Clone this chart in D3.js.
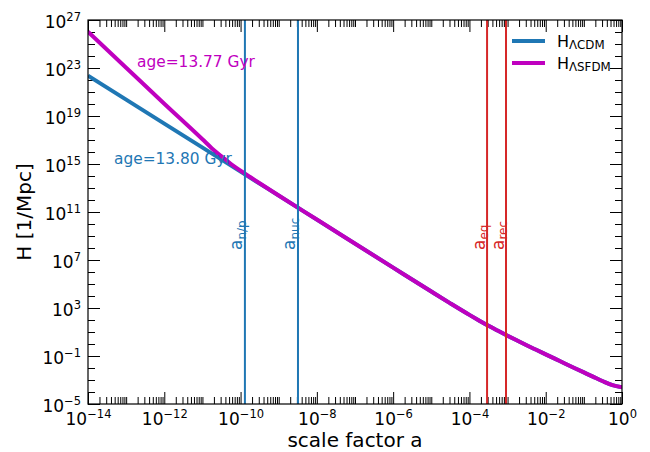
<!DOCTYPE html>
<html><head><meta charset="utf-8">
<script src="https://cdn.jsdelivr.net/npm/d3@7"></script>
<style>
body{margin:0;background:#fff}
svg{display:block;font-family:"DejaVu Sans",sans-serif}
</style>
</head><body>
<svg id="chart" width="650" height="452"></svg>
<script>
// Hubble rate H(a) in 1/Mpc against scale factor a
const aLCDM = [1e-14, 1e-12, 1e-10, 1e-8, 1e-6, 1e-5, 3.16e-5, 1e-4, 1.78e-4, 3.16e-4, 5.62e-4,
  1e-3, 1.78e-3, 3.16e-3, 5.62e-3, 1e-2, 1.78e-2, 3.16e-2, 5.62e-2, 0.1, 0.178, 0.316, 0.562, 1];
const hLCDM = [2.34e22, 2.34e18, 2.34e14, 2.34e10, 2.31e6, 2.34e4, 2.43e3, 267, 92.7, 33, 12.5,
  4.85, 1.94, 0.79, 0.328, 0.137, 0.0573, 0.024, 0.0101, 4.27e-3, 1.81e-3, 7.85e-4, 3.78e-4, 2.42e-4];

const aLSFDM = [1e-14, 1e-13, 1e-12, 1e-11, 1.78e-11, 3.16e-11, 5.62e-11, 1e-10, 1.78e-10, 3.16e-10,
  1e-9, 1e-8, 1e-6, 1e-5, 3.16e-5, 1e-4, 1.78e-4, 3.16e-4, 5.62e-4,
  1e-3, 1.78e-3, 3.16e-3, 5.62e-3, 1e-2, 1.78e-2, 3.16e-2, 5.62e-2, 0.1, 0.178, 0.316, 0.562, 1];
const hLSFDM = [1.05e26, 1.05e23, 1.05e20, 1.15e17, 2.0e16, 4.4e15, 1.0e15, 2.8e14, 8.3e13, 2.5e13,
  2.35e12, 2.34e10, 2.31e6, 2.34e4, 2.43e3, 267, 92.7, 33, 12.5,
  4.85, 1.94, 0.79, 0.328, 0.137, 0.0573, 0.024, 0.0101, 4.27e-3, 1.81e-3, 7.85e-4, 3.78e-4, 2.42e-4];

// Epoch markers
const markerNames = ["n/p", "nuc", "eq", "rec"];
const markerA = [1.3e-10, 3.2e-9, 2.9e-4, 9.1e-4];
const markerColors = ["#1f77b4", "#1f77b4", "#d62728", "#d62728"];

// Age annotations
const ageTexts = ["age=13.77 Gyr", "age=13.80 Gyr"];
const agePos = [[1.93e-13, 1.2e23], [4.8e-14, 1e15]];
const ageColors = ["#bf00bf", "#1f77b4"];

// Legend
const legendSubs = ["ΛCDM", "ΛSFDM"];
const seriesColors = ["#1f77b4", "#bf00bf"];

// Axis ticks (exponents)
const xMajorExp = [-14, -12, -10, -8, -6, -4, -2, 0];
const yMajorExp = [27, 23, 19, 15, 11, 7, 3, -1, -5];

const W = 650, H = 452;
const m = {left: 88, right: 28, top: 20, bottom: 48};
const pw = W - m.left - m.right, ph = H - m.top - m.bottom;

const svg = d3.select("#chart");
const g = svg.append("g").attr("transform", `translate(${m.left},${m.top})`);

const x = d3.scaleLog().domain([1e-14, 1]).range([0, pw]);
const y = d3.scaleLog().domain([1e-5, 1e27]).range([ph, 0]);

svg.append("defs").append("clipPath").attr("id", "plotclip")
  .append("rect").attr("width", pw).attr("height", ph);

// tick positions
const xMajor = xMajorExp.map(e => Math.pow(10, e));
const xMinor = [];
for (let e = -14; e < 0; e++) {
  for (let k = 1; k < 10; k++) {
    if (k === 1 && e % 2 === 0) continue;
    xMinor.push(k * Math.pow(10, e));
  }
}
const yMajor = yMajorExp.map(e => Math.pow(10, e));
const yMinor = d3.range(-5, 28).filter(e => !yMajorExp.includes(e)).map(e => Math.pow(10, e));

const MAJ = 12, MIN = 7;
function axisLayer(axisFn, scale, vals, len, tr) {
  const a = g.append("g").attr("transform", tr)
    .call(axisFn(scale).tickValues(vals).tickSize(-len).tickSizeOuter(0).tickFormat(""));
  a.select(".domain").remove();
  a.selectAll("line").attr("stroke", "#000").attr("stroke-width", 1);
  return a;
}
axisLayer(d3.axisBottom, x, xMinor, MIN, `translate(0,${ph})`);
const xAx = axisLayer(d3.axisBottom, x, xMajor, MAJ, `translate(0,${ph})`);
axisLayer(d3.axisTop, x, xMinor, MIN, "translate(0,0)");
axisLayer(d3.axisTop, x, xMajor, MAJ, "translate(0,0)");
axisLayer(d3.axisLeft, y, yMinor, MIN, "translate(0,0)");
const yAx = axisLayer(d3.axisLeft, y, yMajor, MAJ, "translate(0,0)");
axisLayer(d3.axisRight, y, yMinor, MIN, `translate(${pw},0)`);
axisLayer(d3.axisRight, y, yMajor, MAJ, `translate(${pw},0)`);

function powLabel(sel, exp) {
  sel.text(null);
  sel.append("tspan").attr("font-size", 17).text("10");
  sel.append("tspan").attr("font-size", 11.5).attr("dy", -7.5)
    .text(String(exp).replace("-", "\u2212"));
}
xAx.selectAll(".tick text").each(function(d, i) {
  const t = d3.select(this).attr("y", 0).attr("dy", 0)
    .attr("transform", "translate(0,21)").attr("text-anchor", "middle")
    .attr("fill", "#000").attr("font-family", "DejaVu Sans");
  powLabel(t, xMajorExp[i]);
});
yAx.selectAll(".tick text").each(function(d, i) {
  const t = d3.select(this).attr("x", -7).attr("dy", 0).attr("y", 7.5)
    .attr("text-anchor", "end").attr("fill", "#000").attr("font-family", "DejaVu Sans");
  powLabel(t, yMajorExp[i]);
});

// curves
const line = d3.line().x(d => x(d[0])).y(d => y(d[1])).curve(d3.curveMonotoneX);
const plot = g.append("g").attr("clip-path", "url(#plotclip)");
const series = [d3.zip(aLCDM, hLCDM), d3.zip(aLSFDM, hLSFDM)];
plot.selectAll("path.curve").data(series).join("path")
  .attr("class", "curve")
  .attr("d", line).attr("fill", "none")
  .attr("stroke", (d, i) => seriesColors[i]).attr("stroke-width", 4)
  .attr("stroke-linejoin", "round");

// epoch lines
plot.selectAll("line.marker").data(markerA).join("line")
  .attr("class", "marker")
  .attr("x1", d => x(d)).attr("x2", d => x(d))
  .attr("y1", 0).attr("y2", ph)
  .attr("stroke", (d, i) => markerColors[i]).attr("stroke-width", 2);

g.selectAll("text.mlabel").data(markerA).join("text")
  .attr("class", "mlabel")
  .attr("transform", d => `translate(${x(d) - 2.5},${230}) rotate(-90)`)
  .attr("fill", (d, i) => markerColors[i])
  .each(function(d, i) {
    const t = d3.select(this);
    t.append("tspan").attr("font-size", 17).text("a");
    t.append("tspan").attr("font-size", 12).attr("dy", 3.5).text(markerNames[i]);
  });

// age annotations
g.selectAll("text.age").data(ageTexts).join("text")
  .attr("class", "age")
  .attr("x", (d, i) => x(agePos[i][0])).attr("y", (d, i) => y(agePos[i][1]))
  .attr("font-size", 15.4).attr("fill", (d, i) => ageColors[i])
  .text(d => d);

// frame
g.append("rect").attr("width", pw).attr("height", ph)
  .attr("fill", "none").attr("stroke", "#000").attr("stroke-width", 1.2);

// legend
const leg = g.append("g").attr("transform", `translate(${512 - m.left},${41 - m.top})`);
const items = leg.selectAll("g").data(legendSubs).join("g")
  .attr("transform", (d, i) => `translate(0,${i * 22})`);
items.append("line").attr("x1", 0).attr("x2", 33)
  .attr("stroke", (d, i) => seriesColors[i]).attr("stroke-width", 4);
items.append("text").attr("x", 45).attr("y", 5.7)
  .each(function(d) {
    const t = d3.select(this);
    t.append("tspan").attr("font-size", 16).text("H");
    t.append("tspan").attr("font-size", 11.8).attr("dy", 2.6).text(d);
  });

// axis titles
svg.append("text").attr("x", m.left + pw / 2).attr("y", 447)
  .attr("text-anchor", "middle").attr("font-size", 20).text("scale factor a");
svg.append("text").attr("transform", `translate(31,${m.top + ph / 2}) rotate(-90)`)
  .attr("text-anchor", "middle").attr("font-size", 20).text("H [1/Mpc]");
</script>
</body></html>
